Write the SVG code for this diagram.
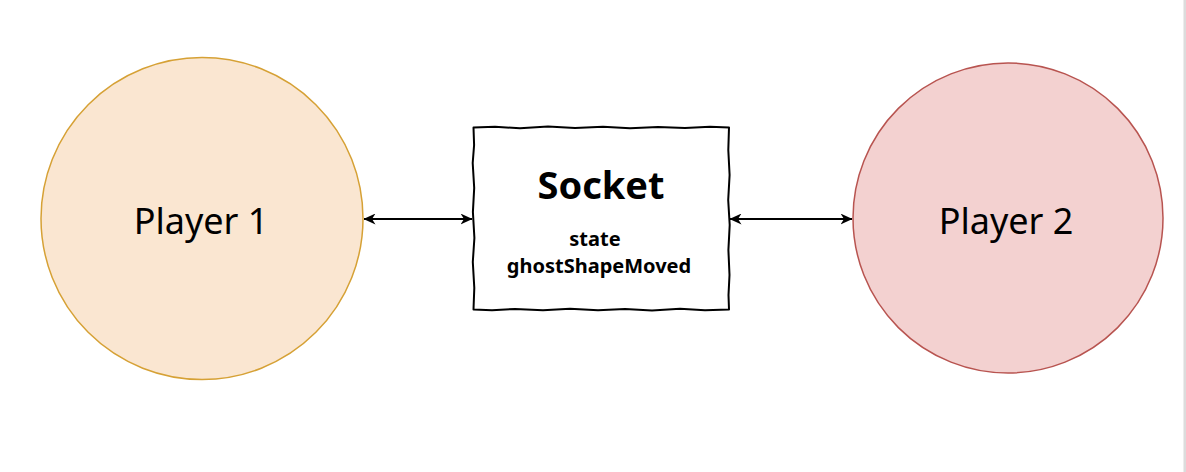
<svg xmlns="http://www.w3.org/2000/svg" width="1186" height="472" viewBox="0 0 1186 472">
  <style>
    .lbl { font-family: "Comic Sans MS", "Noto Sans", "DejaVu Sans", sans-serif; fill: #000; text-anchor: middle; }
    .player { font-size: 36px; }
    .title { font-size: 38px; font-weight: bold; }
    .sub { font-size: 20px; font-weight: bold; }
    .conn { stroke: #000; stroke-width: 1.8; fill: none; marker-start: url(#arr); marker-end: url(#arr); }
  </style>
  <defs>
    <marker id="arr" viewBox="0 0 12 11" refX="11.5" refY="5.5" markerWidth="12" markerHeight="11" markerUnits="userSpaceOnUse" orient="auto-start-reverse">
      <path d="M0,0 L12,5.5 L0,11 L3.5,5.5 Z" fill="#000"/>
    </marker>
  </defs>
  <rect x="0" y="0" width="1186" height="472" fill="#fff"/>
  <rect x="1183.5" y="0" width="2.5" height="472" fill="#dcdcdc"/>

  <g id="player1">
    <circle cx="202" cy="218.5" r="161" fill="#fae6d1" stroke="#d6a135" stroke-width="1.5"/>
    <text class="lbl player" x="201" y="234">Player 1</text>
  </g>

  <g id="player2">
    <circle cx="1008" cy="218" r="155" fill="#f3d1d0" stroke="#b85450" stroke-width="1.5"/>
    <text class="lbl player" x="1006" y="234">Player 2</text>
  </g>

  <g id="socket">
    <path d="M473.5,127.5 L495,126.8 L520,128.2 L548,126.6 L575,128 L603,126.7 L630,128.3 L658,126.9 L685,128.1 L710,126.8 L729,127.5
             L728.3,150 L729.6,175 L728.2,200 L729.7,225 L728.4,250 L729.5,275 L728.5,295 L729,309.5
             L705,310.3 L680,308.8 L652,310.4 L625,308.9 L598,310.2 L570,308.7 L543,310.3 L515,308.9 L492,310.2 L473.5,309.5
             L474.3,288 L472.8,262 L474.4,238 L472.9,212 L474.2,188 L472.7,163 L474.1,145 Z"
          fill="#fff" stroke="#000" stroke-width="2" stroke-linejoin="round"/>
    <text class="lbl title" x="601" y="199">Socket</text>
    <text class="lbl sub" x="595" y="246">state</text>
    <text class="lbl sub" x="599" y="273">ghostShapeMoved</text>
  </g>

  <g id="connectors">
    <line class="conn" x1="364" y1="219" x2="472" y2="219"/>
    <line class="conn" x1="730" y1="219" x2="852" y2="219"/>
  </g>
</svg>
